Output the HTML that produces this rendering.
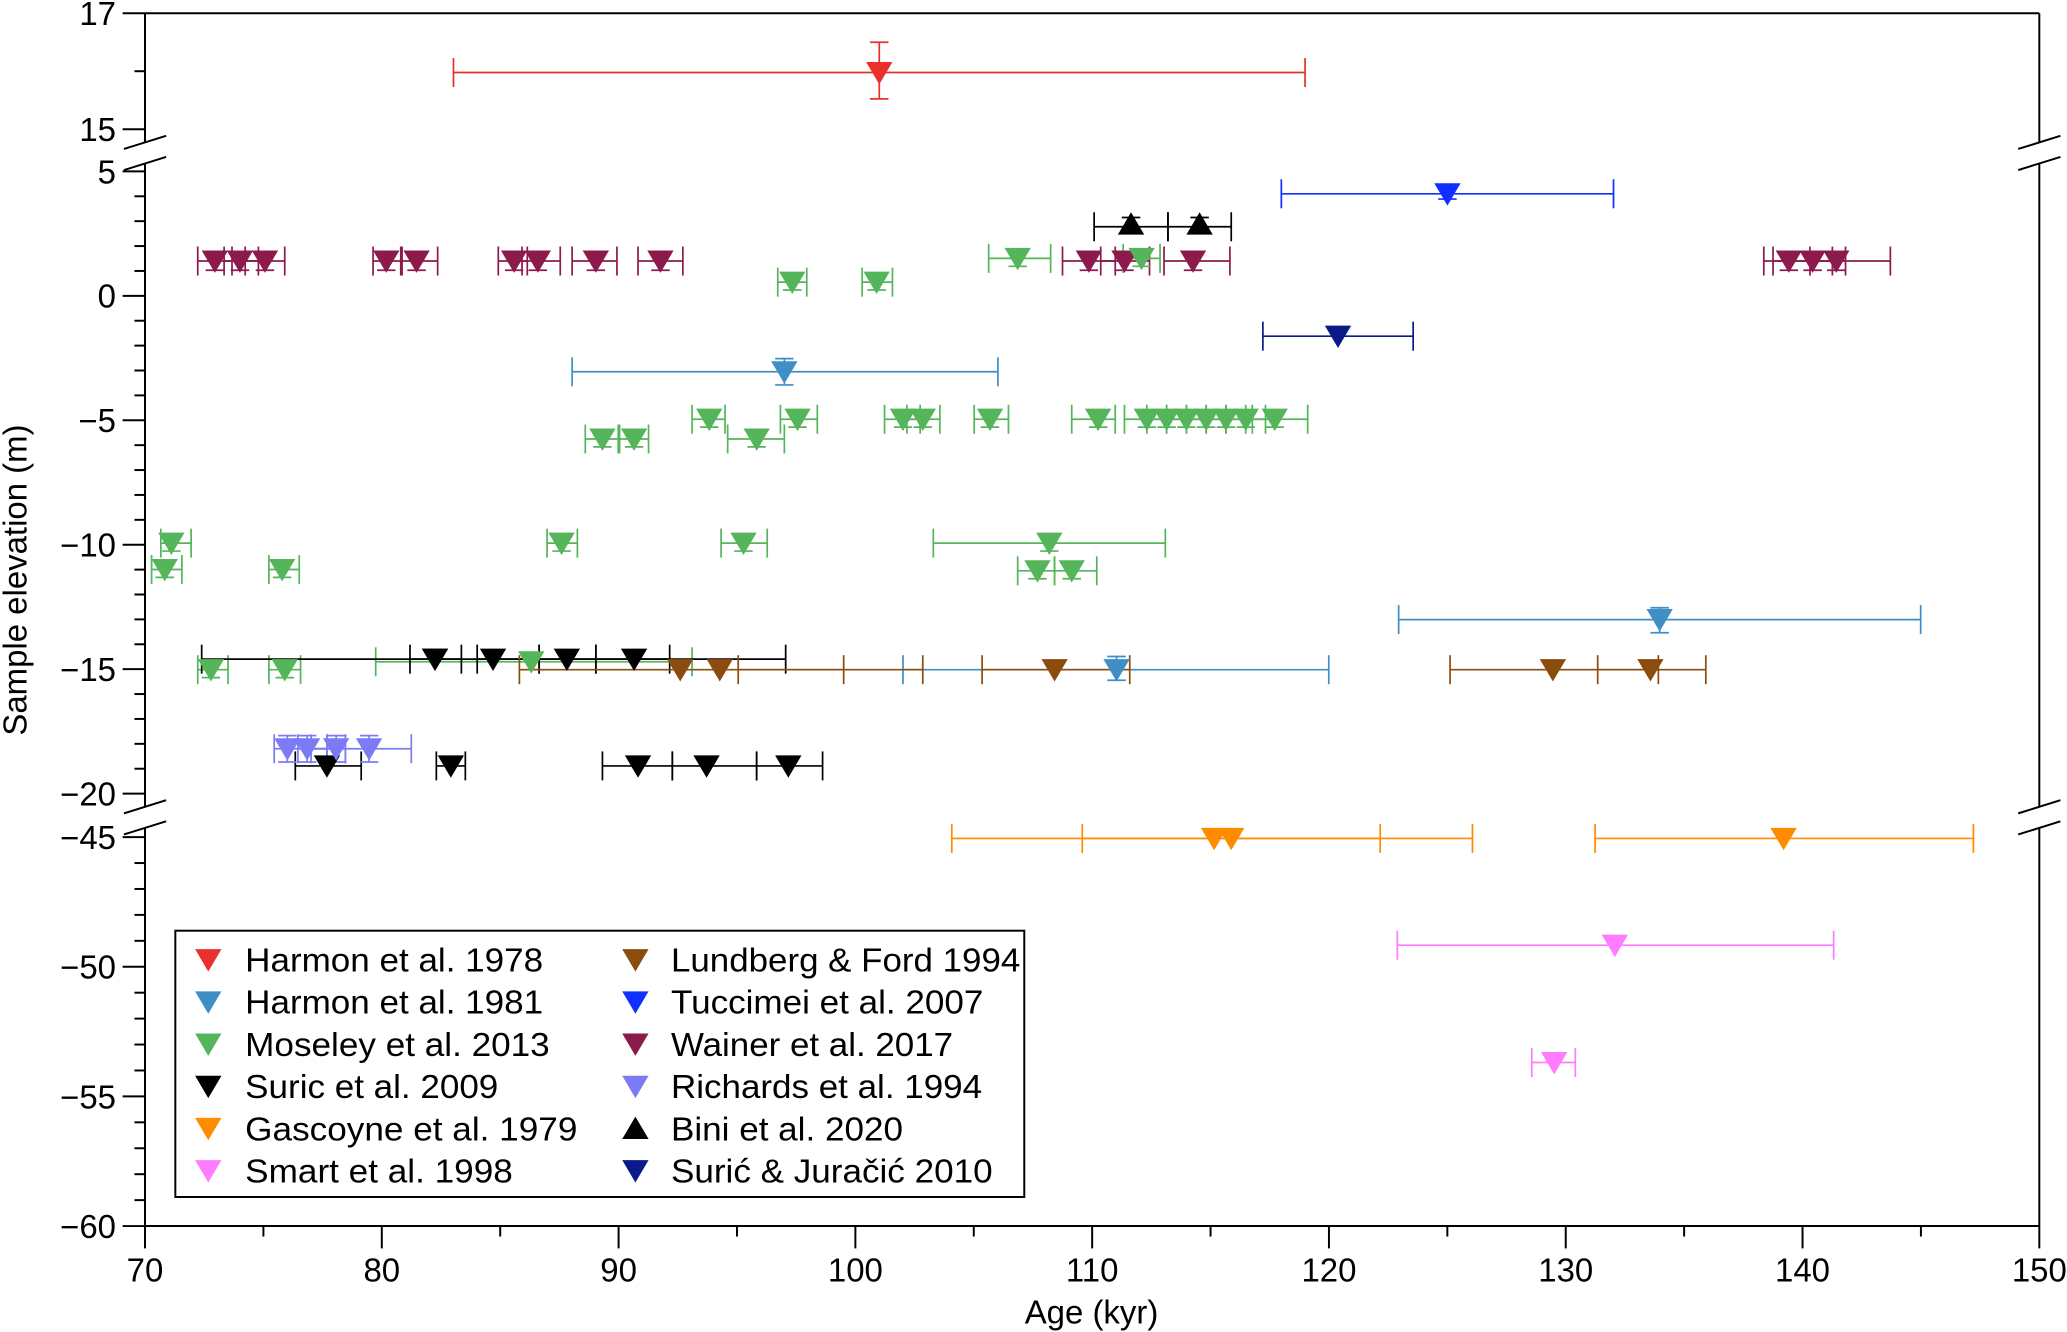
<!DOCTYPE html>
<html><head><meta charset="utf-8"><style>
html,body{margin:0;padding:0;background:#fff}
svg{display:block}
text{font-family:"Liberation Sans",Arial,sans-serif;fill:#000}
</style></head><body>
<svg id="s" width="2067" height="1332" viewBox="0 0 1568 1010.4" xmlns="http://www.w3.org/2000/svg"></svg>
<script>
const s=document.getElementById('s');let h='';
const L=110,R=1547,T=10,B=930;
h+=`<g stroke="#000" stroke-width="1.5" fill="none">`;
h+=`<line x1="${L}" y1="${T}" x2="${R}" y2="${T}"/><line x1="${L}" y1="${B}" x2="${R}" y2="${B}"/>`;
[[T,108],[124,612],[628,B]].forEach(([a,b])=>{h+=`<line x1="${L}" y1="${a}" x2="${L}" y2="${b}"/><line x1="${R}" y1="${a}" x2="${R}" y2="${b}"/>`;});
[108,124,612,628].forEach(y=>{[L,R].forEach(x=>{h+=`<line x1="${x-16}" y1="${y+5}" x2="${x+16}" y2="${y-5}"/>`;});});
for(let k=70;k<=150;k+=5){const x=L+(k-70)*(R-L)/80;const len=k%10==0?17:8;h+=`<line x1="${x}" y1="${B}" x2="${x}" y2="${B+len}"/>`;}
function yt(v){ if(v>=15) return 10+(17-v)*44; if(v>=-20) return 130+(5-v)*18.88; return 635+(-45-v)*19.67;}
for(let v=15;v<=17;v++) h+=`<line x1="${L}" y1="${yt(v)}" x2="${L-(v%2==1?17:8)}" y2="${yt(v)}"/>`;
for(let v=-20;v<=5;v++) h+=`<line x1="${L}" y1="${yt(v)}" x2="${L-(v%5==0?17:8)}" y2="${yt(v)}"/>`;
for(let v=-60;v<=-45;v++) h+=`<line x1="${L}" y1="${yt(v)}" x2="${L-(v%5==0?17:8)}" y2="${yt(v)}"/>`;
h+=`</g>`;
h+=`<g font-size="25" text-anchor="end">`;
[17,15,5,0,-5,-10,-15,-20,-45,-50,-55,-60].forEach(v=>{h+=`<text x="88" y="${yt(v)+9}">${v<0?'\u2212'+(-v):v}</text>`;});
h+=`</g><g font-size="25" text-anchor="middle">`;
for(let k=70;k<=150;k+=10){const x=L+(k-70)*(R-L)/80;h+=`<text x="${x}" y="972">${k}</text>`;}
h+=`<text x="828" y="1004">Age (kyr)</text><text transform="translate(20,440) rotate(-90)">Sample elevation (m)</text></g>`;
const C={r:'#e8312a',hb:'#3f8fc6',g:'#55b55a',k:'#000',o:'#ff8c00',p:'#ff7bff',br:'#8b4c0e',b:'#1030ff',m:'#8c1b4c',rb:'#7b7bf5',n:'#0a1a8a'};
function eb(c,y,x1,x2,vy1,vy2,x){let o=`<g stroke="${c}" stroke-width="1.3">`;o+=`<line x1="${x1}" y1="${y}" x2="${x2}" y2="${y}"/><line x1="${x1}" y1="${y-11}" x2="${x1}" y2="${y+11}"/><line x1="${x2}" y1="${y-11}" x2="${x2}" y2="${y+11}"/>`;if(vy1!=null){o+=`<line x1="${x}" y1="${vy1}" x2="${x}" y2="${vy2}"/><line x1="${x-7}" y1="${vy1}" x2="${x+7}" y2="${vy1}"/><line x1="${x-7}" y1="${vy2}" x2="${x+7}" y2="${vy2}"/>`;}return o+'</g>';}
function tri(c,x,y,up){return up?`<polygon fill="${c}" points="${x-10},${y+8} ${x+10},${y+8} ${x},${y-9}"/>`:`<polygon fill="${c}" points="${x-10},${y-8} ${x+10},${y-8} ${x},${y+9}"/>`;}
const P=[];
P.push(['r',667,55,344,990,32,75]);
P.push(['hb',595,282,434,757,272,292],['hb',1259,470,1061,1457,461,480],['hb',847,508,685,1008,498,516]);
P.push(['b',1098,147,972,1224,143,151],['n',1015,255,958,1072]);
P.push(['k',858,170,830,886,165,175,1],['k',910,170,886,934,165,175,1]);
[[163,150,176],[182,170,196],[201,186,216],[293,283,305],[316,304,332],[390,378,400],[408,396,425],[452,434,468],[501,484,518],[826,806,846],[853,835,872],[905,883,933],[1357,1338,1390],[1375,1345,1400],[1393,1373,1434]].forEach(a=>P.push(['m',a[0],198,a[1],a[2],191,205]));
[[772,196,750,797],[866,196,852,880],[601,214,590,612],[665,214,654,677],[457,333,444,470],[481,333,469,492],[538,318,525,550],[574,333,552,595],[605,318,592,620],[685,318,671,698],[700,318,688,713],[751,318,739,765],[833,318,813,846],[870,318,853,885],[885,318,870,900],[900,318,885,915],[915,318,900,930],[930,318,915,945],[945,318,930,960],[967,318,950,992],[130,412,122,145],[125,432,115,138],[426,412,415,438],[564,412,547,582],[796,412,708,884],[787,433,772,800],[813,433,800,832],[214,432,204,227],[160,508,150,173],[216,508,204,228],[403,502,285,525]].forEach(a=>P.push(['g',a[0],a[1],a[2],a[3],a[1]-6,a[1]+6]));
P.push(['k',330,500,153,596],['k',374,500,362,409],['k',430,500,409,452],['k',481,500,452,508],['k',330,500,311,350]);
[[248,224,274],[342,331,353],[484,457,510],[536,510,574],[598,574,624]].forEach(a=>P.push(['k',a[0],581,a[1],a[2]]));
P.push(['br',516,508,394,640],['br',546,508,560,700],['br',800,508,745,857],['br',1178,508,1100,1258],['br',1252,508,1212,1294]);
[[218,208,262],[233,226,248],[255,236,262],[280,248,312]].forEach(a=>P.push(['rb',a[0],568,a[1],a[2],558,578]));
P.push(['o',921,636,722,1117],['o',934,636,821,1047],['o',1353,636,1210,1497]);
P.push(['p',1225,717,1060,1391],['p',1179,806,1162,1195]);
P.forEach(a=>{h+=eb(C[a[0]],a[2]+(a[0]=='k'&&a[7]?2:0),a[3],a[4],a[5],a[6],a[1]);});
P.forEach(a=>{h+=tri(C[a[0]],a[1],a[2],a[7]);});
h+=`<rect x="133" y="706" width="644" height="202" fill="#fff" stroke="#000" stroke-width="1.5"/>`;
const LG=[['r','Harmon et al. 1978',226],['hb','Harmon et al. 1981',226],['g','Moseley et al. 2013',231],['k','Suric et al. 2009',192],['o','Gascoyne et al. 1979',252],['p','Smart et al. 1998',203],['br','Lundberg & Ford 1994',265],['b','Tuccimei et al. 2007',237],['m','Wainer et al. 2017',214],['rb','Richards et al. 1994',236],['k','Bini et al. 2020',176,1],['n','Surić & Juračić 2010',244]];
LG.forEach((e,i)=>{const col=i<6?0:1,r=i%6;const y=728+r*32;const mx=col?482:158,tx=col?509:186;h+=tri(C[e[0]],mx,y,e[3]);h+=`<text x="${tx}" y="${y+9}" font-size="25" textLength="${e[2]}" lengthAdjust="spacingAndGlyphs">${e[1].replace('&','&amp;')}</text>`;});
s.innerHTML=h;
</script>
</body></html>
